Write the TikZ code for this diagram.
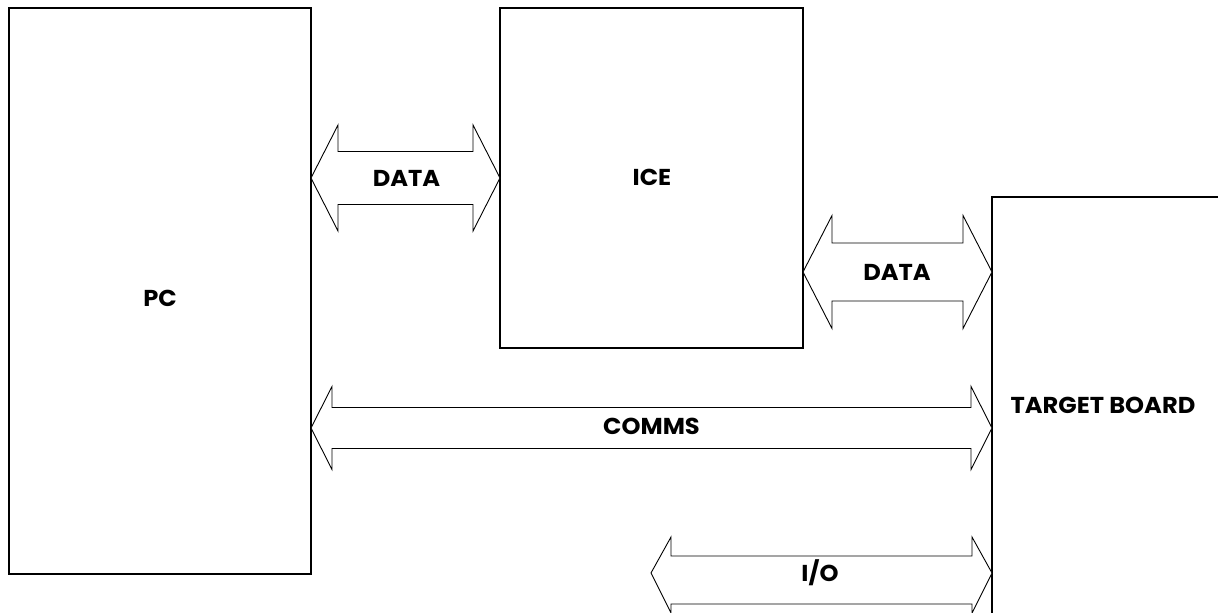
\documentclass[tikz,border=0pt]{standalone}
\usepackage{fontspec}
\setmainfont{Poppins}[FakeStretch=1.05]
\usetikzlibrary{calc}
\tikzset{
  blk/.style={draw=black,line width=1.2pt,fill=white,inner sep=0pt,outer sep=0pt},
  fat/.style={draw=black,line width=0.9pt,fill=white,line join=miter},
  lbl/.style={font=\fontsize{23}{23}\selectfont\bfseries,inner sep=0pt}
}
% #1 left tip, #2 right tip, #3 head length, #4 head half width, #5 shaft half width
\newcommand\blockarrow[5]{%
  \draw[fat] (#1) -- ($(#1)+(#3,-#4)$) -- ($(#1)+(#3,-#5)$) -- ($(#2)+(-#3,-#5)$)
    -- ($(#2)+(-#3,-#4)$) -- (#2) -- ($(#2)+(-#3,#4)$) -- ($(#2)+(-#3,#5)$)
    -- ($(#1)+(#3,#5)$) -- ($(#1)+(#3,#4)$) -- cycle;}
\begin{document}
\begin{tikzpicture}[x=1pt,y=-1pt]
\useasboundingbox (0,0) rectangle (1218,613);
\clip (0,0) rectangle (1218,613);
% boxes
\node[blk,minimum width=302pt,minimum height=566pt] (pc) at (160,291) {};
\node[blk,minimum width=303pt,minimum height=340pt] (ice) at (651.5,178) {};
\node[blk,minimum width=240pt,minimum height=430pt] (tb) at (1112,412) {};
% box labels
\node[lbl] (pcl) at (160,298) {PC};
\node[lbl] (icel) at (652,177) {ICE};
\node[lbl] (tbl) at (1103,405) {TARGET BOARD};
% arrow end points
\coordinate (d1a) at (pc.east |- 0,178);
\coordinate (d1b) at (ice.west |- 0,178);
\coordinate (d2a) at (ice.east |- 0,272);
\coordinate (d2b) at (tb.west |- 0,272);
\coordinate (ca) at (pc.east |- 0,428);
\coordinate (cb) at (tb.west |- 0,428);
\coordinate (ioa) at (651,573);
\coordinate (iob) at (tb.west |- 0,573);
% block arrows
\blockarrow{d1a}{d1b}{27}{53}{26.5}
\blockarrow{d2a}{d2b}{29}{56.5}{29}
\blockarrow{ca}{cb}{21}{41.5}{20.5}
\draw[fat] (ioa) -- ($(ioa)+(20,-36)$) -- ($(ioa)+(20,-17)$) -- ($(iob)+(-20,-17)$)
  -- ($(iob)+(-20,-36)$) -- (iob) -- ($(iob)+(-20,40)$) -- ($(iob)+(-20,31)$)
  -- ($(ioa)+(20,31)$) -- ($(ioa)+(20,40)$) -- cycle;
% arrow labels
\node[lbl] (d1l) at (406.5,178) {DATA};
\node[lbl] (d2l) at (897,272) {DATA};
\node[lbl] (cl) at (651.5,426) {COMMS};
\node[lbl] (iol) at (820,573) {I/O};
\end{tikzpicture}
\end{document}
